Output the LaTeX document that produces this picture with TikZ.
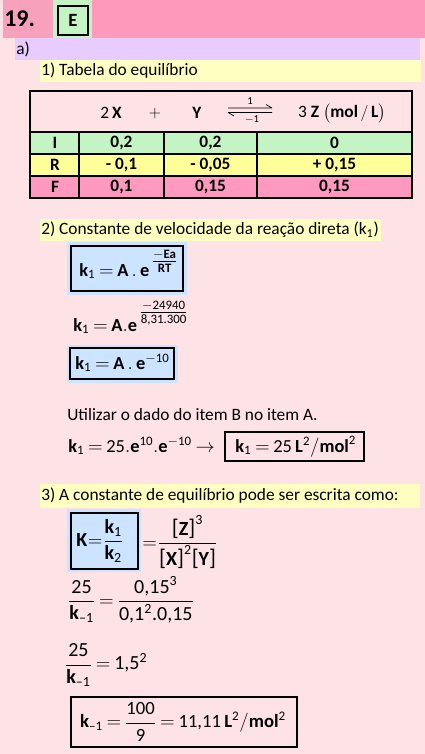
\documentclass[tikz,border=0pt]{standalone}
\usepackage{amsmath}
\usepackage{fontspec}
\setmainfont{Carlito}
\definecolor{pagebg}{HTML}{FDE3E6}
\definecolor{hdrpinkA}{HTML}{F7A1BC}
\definecolor{hdrpink}{HTML}{FF99BB}
\definecolor{cellgreen}{HTML}{C4F3C4}
\definecolor{lavband}{HTML}{E8CCFF}
\definecolor{yelband}{HTML}{FFFFC2}
\definecolor{rowyel}{HTML}{FFFF99}
\definecolor{rowpink}{HTML}{FF99C0}
\definecolor{boxblue}{HTML}{CCE4FF}
\newcommand{\mB}[1]{\textbf{#1}}
\newcommand{\mT}[1]{\text{#1}}
\newcommand{\lbr}{\mT{\fontsize{17}{17}\selectfont[}}
\newcommand{\rbr}{\mT{\fontsize{17}{17}\selectfont]}}
\thickmuskip=3.5mu plus 2mu
\tikzset{
  bodytext/.style={inner sep=0pt, font=\fontsize{13}{15}\selectfont},
  tabtext/.style={inner sep=0pt, font=\fontsize{13}{15}\selectfont\bfseries},
  hdrtext/.style={inner sep=0pt, font=\fontsize{13}{15}\selectfont},
  mathtext/.style={inner sep=0pt, font=\fontsize{13.8}{16}\selectfont},
  bigmath/.style={inner sep=0pt, font=\fontsize{15}{18}\selectfont},
  endmath/.style={inner sep=0pt, font=\fontsize{14}{17}\selectfont},
  frame/.style={draw=black, line width=0.8pt},
  tline/.style={draw=black, line width=0.8pt},
}
\begin{document}
\begin{tikzpicture}[x=0.75pt,y=-0.75pt]
\fill[pagebg] (0,0) rectangle (425,754);
\useasboundingbox (0,0) rectangle (425,754);
% header
\fill[hdrpinkA] (3,0) rectangle (53,38);
\fill[cellgreen] (53,0) rectangle (92,38);
\fill[hdrpink] (92,0) rectangle (425,38);
\node[anchor=west, inner sep=0pt, font=\fontsize{18}{20}\selectfont\bfseries] (num) at (4,19) {19.};
\node[frame, minimum width=22.5pt, minimum height=21.75pt, inner sep=0pt, font=\fontsize{14}{16}\selectfont\bfseries] (ans) at (73,20.5) {E};
% a)
\fill[lavband] (15,38) rectangle (420,60);
\node[bodytext, anchor=west] (pa) at (16,49) {a)};
% 1)
\fill[yelband] (40,60) rectangle (421,82);
\node[bodytext, anchor=west] (s1) at (41,71) {1) Tabela do equilíbrio};
% table
\fill[cellgreen] (30,132) rectangle (412,154);
\fill[rowyel] (30,154) rectangle (412,176);
\fill[rowpink] (30,176) rectangle (412,198);
\draw[tline] (30,91) rectangle (412,198);
\draw[tline] (30,132) -- (412,132);
\draw[tline] (30,154) -- (412,154);
\draw[tline] (30,176) -- (412,176);
\draw[tline] (79,132) -- (79,198);
\draw[tline] (164,132) -- (164,198);
\draw[tline] (257,132) -- (257,198);
\node[hdrtext] (h2x) at (111,113) {2\,\textbf{X}};
\node[hdrtext] (hplus) at (155,113) {$+$};
\node[hdrtext] (hy) at (197,113) {\textbf{Y}};
\draw[line width=0.5pt] (228,108) -- (272,108) (266,104.5) -- (272,108);
\draw[line width=0.5pt] (228,112.5) -- (272,112.5) (228,112.5) -- (234,116);
\node[inner sep=0pt, font=\fontsize{8}{9}\selectfont] (hk1) at (250,101) {1};
\node[inner sep=0pt, font=\fontsize{8}{9}\selectfont] (hkm1) at (252,120) {$-$1};
\node[hdrtext] (h3z) at (342,113) {$\mT{3}\ \mB{Z}\ \bigl(\mB{mol}\,/\,\mB{L}\bigr)$};
\node[tabtext] (rI) at (55,143) {I};
\node[tabtext] (rI1) at (121.5,143) {0,2};
\node[tabtext] (rI2) at (210.5,143) {0,2};
\node[tabtext] (rI3) at (334.5,143) {0};
\node[tabtext] (rR) at (55,165) {R};
\node[tabtext] (rR1) at (121.5,165) {- 0,1};
\node[tabtext] (rR2) at (210.5,165) {- 0,05};
\node[tabtext] (rR3) at (334.5,165) {+ 0,15};
\node[tabtext] (rF) at (55,187) {F};
\node[tabtext] (rF1) at (121.5,187) {0,1};
\node[tabtext] (rF2) at (210.5,187) {0,15};
\node[tabtext] (rF3) at (334.5,187) {0,15};
% 2)
\fill[yelband] (40,219) rectangle (381,241);
\node[bodytext, anchor=west] (s2) at (41,230) {2) Constante de velocidade da reação direta (k\textsubscript{1})};
\fill[boxblue] (67,242) rectangle (187,295);
\node[frame, minimum width=84pt, minimum height=33.75pt, inner sep=0pt] (b1) at (127,268.5) {};
\node[mathtext, anchor=base west] (e1) at (79,276) {$\mB{k}_{\mT{1}} = \mB{A}\,.\,\mB{e}^{\,\raisebox{2pt}{$\genfrac{}{}{}{1}{-\mB{Ea}}{\mB{RT}}$}}$};
\node[mathtext, anchor=base west] (e2) at (73,331) {$\mB{k}_{\mT{1}} = \mB{A}.\mB{e}^{\,\raisebox{5pt}{$\genfrac{}{}{}{1}{-\mT{24940}}{\mT{8,31.300}}$}}$};
\fill[boxblue] (67,345) rectangle (178,383);
\node[frame, minimum width=78pt, minimum height=23.25pt, inner sep=0pt] (b2) at (122,363.5) {};
\node[mathtext, anchor=base west] (e3) at (75,369) {$\mB{k}_{\mT{1}} = \mB{A}\,.\,\mB{e}^{-\mT{10}}$};
\node[bodytext, anchor=west] (util) at (67,415) {Utilizar o dado do item B no item A.};
\node[mathtext, anchor=base west] (e4) at (68,452) {$\mB{k}_{\mT{1}} = \mT{25}.\mB{e}^{\mT{10}}.\mB{e}^{-\mT{10}} \rightarrow$};
\node[frame, minimum width=104.25pt, minimum height=21.75pt] (b3) at (294.5,446.5) {};
\node[mathtext, anchor=base west] (e4b) at (235,452) {$\mB{k}_{\mT{1}} = \mT{25}\,\mB{L}^{\mT{2}}/\mB{mol}^{\mT{2}}$};
% 3)
\fill[yelband] (40,484) rectangle (420,508);
\node[bodytext, anchor=west] (s3) at (41,496) {3) A constante de equilíbrio pode ser escrita como:};
\fill[boxblue] (67,509) rectangle (141,572);
\node[frame, minimum width=50.25pt, minimum height=42pt, inner sep=0pt] (b4) at (104.5,541) {};
\node[bigmath] (e5) at (100,541) {$\displaystyle \mB{K}\!=\!\frac{\mB{k}_{\mT{1}}}{\mB{k}_{\mT{2}}}$};
\node[bigmath] (e6) at (180,542) {$\displaystyle =\!\frac{\lbr\mB{Z}\rbr^{\mT{3}}}{\lbr\mB{X}\rbr^{\mT{2}}\lbr\mB{Y}\rbr}$};
\node[bigmath] (e7) at (131,600) {$\displaystyle \frac{\mT{25}}{\mB{k}_{\mT{–1}}} = \frac{\mT{0,15}^{\mT{3}}}{\mT{0,1}^{\mT{2}}\mT{.0,15}}$};
\node[bigmath] (e8) at (106,665) {$\displaystyle \frac{\mT{25}}{\mB{k}_{\mT{–1}}} = \mT{1,5}^{\mT{2}}$};
\node[frame, minimum width=169.5pt, minimum height=37.5pt] (b5) at (184,722) {};
\node[endmath] (e9) at (183,722) {$\displaystyle \mB{k}_{\mT{–1}} = \frac{\mT{100}}{\mT{9}} = \mT{11,11}\,\mB{L}^{\mT{2}}/\mB{mol}^{\mT{2}}$};
\end{tikzpicture}
\end{document}
